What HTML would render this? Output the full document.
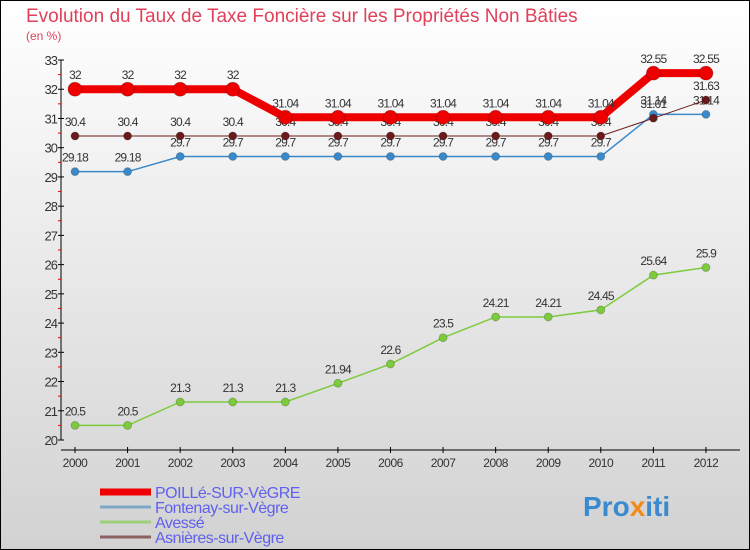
<!DOCTYPE html>
<html><head><meta charset="utf-8"><style>
body{margin:0;width:750px;height:550px;overflow:hidden}
#c{position:absolute;left:0;top:0;width:748px;height:548px;border:1px solid #000;background:linear-gradient(#ffffff,#d2d2d2)}
text{font-family:"Liberation Sans",sans-serif}
</style></head><body>
<div id="c">
<svg id="s" width="750" height="550" style="position:absolute;left:-1px;top:-1px">
<text x="26" y="22" font-size="19" fill="#e0405a">Evolution du Taux de Taxe Foncière sur les Propriétés Non Bâties</text>
<text x="26" y="40" font-size="12" fill="#e0405a">(en %)</text>
<g id="axes"></g><g id="series"></g><g id="legend"></g>
<text x="583" y="516" font-size="28" font-weight="bold" fill="#3a8ad0">Pro<tspan fill="#f08a1a">x</tspan>iti</text>
</svg></div>
<script>
const years=[2000,2001,2002,2003,2004,2005,2006,2007,2008,2009,2010,2011,2012];
const yTicks=[20,21,22,23,24,25,26,27,28,29,30,31,32,33];
const poille=[32,32,32,32,31.04,31.04,31.04,31.04,31.04,31.04,31.04,32.55,32.55];
const fontenay=[29.18,29.18,29.7,29.7,29.7,29.7,29.7,29.7,29.7,29.7,29.7,31.14,31.14];
const avesse=[20.5,20.5,21.3,21.3,21.3,21.94,22.6,23.5,24.21,24.21,24.45,25.64,25.9];
const asnieres=[30.4,30.4,30.4,30.4,30.4,30.4,30.4,30.4,30.4,30.4,30.4,31.01,31.63];
const names=["POILLé-SUR-VèGRE","Fontenay-sur-Vègre","Avessé","Asnières-sur-Vègre"];
const NS="http://www.w3.org/2000/svg";
const X=i=>75+i*52.58, Y=v=>440-(v-20)*29.23;
function el(t,a,p,name){const e=document.createElementNS(NS,t);for(const k in a)e.setAttribute(k,a[k]);


p.appendChild(e);return e;}
const ax=document.getElementById('axes');
el('line',{x1:61,y1:60,x2:61,y2:440,stroke:'#000'},ax,'y-axis');
el('line',{x1:61,y1:450,x2:740,y2:450,stroke:'#000'},ax,'x-axis');
yTicks.forEach(v=>{el('line',{x1:58,y1:Y(v),x2:64,y2:Y(v),stroke:'#000'},ax,'y-tick');
 if(v<33)el('line',{x1:58,y1:Y(v+0.5),x2:61,y2:Y(v+0.5),stroke:'#e00'},ax,'y-minor-tick');
 const t=el('text',{x:57,y:Y(v)+5,'font-size':13,'text-anchor':'end',fill:'#333','letter-spacing':'-1'},ax,'y-tick-label');t.textContent=v;});
years.forEach((y,i)=>{el('line',{x1:X(i),y1:447,x2:X(i),y2:453,stroke:'#000'},ax,'x-tick');
 const t=el('text',{x:X(i),y:467,'font-size':12,'text-anchor':'middle',fill:'#333','letter-spacing':'-0.5'},ax,'x-tick-label');t.textContent=y;});
const sg=document.getElementById('series');
function series(d,col,w,r,key,lbl){
 el('polyline',{points:d.map((v,i)=>X(i)+','+Y(v)).join(' '),fill:'none',stroke:col,'stroke-width':w},sg,key+'-line');
 d.forEach((v,i)=>{el('circle',{cx:X(i),cy:Y(v),r:r,fill:col,stroke:'rgba(0,0,0,0.2)'},sg,key+'-point');
 if(lbl){const t=el('text',{x:X(i),y:Y(v)-10,'font-size':12,'text-anchor':'middle',fill:'#333','letter-spacing':'-0.8'},sg,key+'-value-label');t.textContent=v;}});
}
series(fontenay,'#3a8acb',1.5,4,'fontenay',true);
series(avesse,'#7ccb3c',1.5,4,'avesse',true);
series(asnieres,'#6a1a1a',1,4,'asnieres',true);
series(poille,'#ee0000',8,7,'poille',true);
const lg=document.getElementById('legend');
const cols=['#ee0000','#7ea8c8','#9ed07a','#8a6060'],ws=[7,3,3,3];
names.forEach((n,i)=>{const y=492+i*15;
 el('line',{x1:100,y1:y,x2:151,y2:y,stroke:cols[i],'stroke-width':ws[i]},lg,'legend-swatch');
 const t=el('text',{x:155,y:y+6,'font-size':16,fill:'#6060f0','letter-spacing':'-0.5'},lg,'legend-entry');t.textContent=n;});
</script></body></html>
